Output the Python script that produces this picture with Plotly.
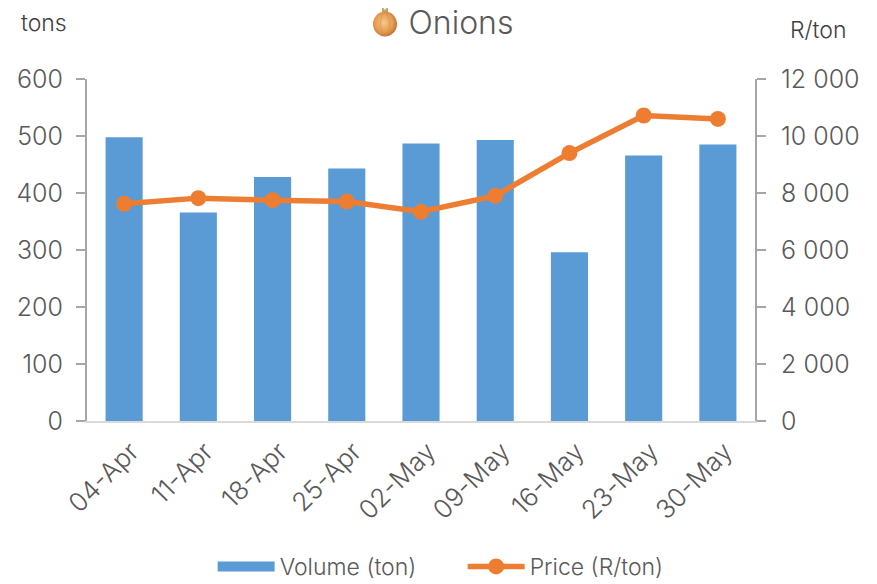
import base64
import plotly.graph_objects as go

categories = ["04-Apr", "11-Apr", "18-Apr", "25-Apr", "02-May", "09-May", "16-May", "23-May", "30-May"]
volume = [498, 366, 428, 443, 487, 493, 296, 466, 485]
price = [7620, 7820, 7750, 7700, 7340, 7900, 9400, 10720, 10600]
left_ticks = [0, 100, 200, 300, 400, 500, 600]
right_ticks = [0, 2000, 4000, 6000, 8000, 10000, 12000]
right_labels = ["0", "2 000", "4 000", "6 000", "8 000", "10 000", "12 000"]

FONT = "Inter"
TXT = "#595959"
BLUE = "#5B9BD5"
ORANGE = "#ED7D31"

onion_svg = """<svg xmlns='http://www.w3.org/2000/svg' viewBox='0 0 28 34'>
<defs><radialGradient id='g' cx='45%' cy='45%' r='60%'>
<stop offset='0%' stop-color='#f6c987'/><stop offset='65%' stop-color='#e39a4e'/><stop offset='100%' stop-color='#b9652c'/>
</radialGradient></defs>
<path d='M11 1 L14 5 L17 1 L17 8 L11 8 Z' fill='#c9a26a'/>
<ellipse cx='14' cy='19' rx='12' ry='12.5' fill='url(#g)'/>
<path d='M14 7 C8 12 8 26 14 31 M14 7 C20 12 20 26 14 31' stroke='#d08a48' stroke-width='.5' fill='none'/>
</svg>"""
onion_uri = "data:image/svg+xml;base64," + base64.b64encode(onion_svg.encode()).decode()

fig = go.Figure()
fig.add_trace(go.Bar(x=categories, y=volume, name="Volume (ton)", marker=dict(color=BLUE, line=dict(width=0)), showlegend=False))
fig.add_trace(go.Scatter(x=[categories[0]], y=[None], mode="lines", name="Volume (ton)", line=dict(color=BLUE, width=10)))
fig.add_trace(go.Scatter(x=categories, y=price, name="Price (R/ton)", yaxis="y2", mode="lines+markers",
                         line=dict(color=ORANGE, width=5.5), marker=dict(color=ORANGE, size=16)))

tf = dict(size=25, color=TXT, weight=300)
fig.update_layout(
    width=869, height=580, autosize=False,
    margin=dict(l=79, r=122, t=71, b=167),
    paper_bgcolor="white", plot_bgcolor="white",
    font=dict(family=FONT, color=TXT, size=23, weight=300),
    bargap=0.5,
    showlegend=True,
    title=dict(text="Onions", xref="container", yref="container", x=(461-8)/869, y=1-(23-8)/580,
               xanchor="center", yanchor="middle", font=dict(size=32, color=TXT, weight=300)),
    legend=dict(orientation="h", x=0.2355, xref="container", xanchor="left", y=0.0, yref="container", yanchor="bottom",
                font=dict(size=23, color=TXT, weight=300), itemwidth=57, traceorder="normal",
                entrywidthmode="pixels", entrywidth=178),
    xaxis=dict(type="category", categoryorder="array", categoryarray=categories, range=[-0.5, 8.5], tickangle=-45,
               tickfont=dict(size=26, color=TXT, weight=300), showgrid=False, ticklabelshift=7, ticklabelstandoff=3,
               automargin=False, showline=True, linecolor="#D9D9D9", linewidth=2, ticks=""),
    yaxis=dict(range=[0, 600], tickvals=left_ticks, tickfont=tf, showgrid=False, zeroline=False, ticklabelstandoff=8,
               automargin=False, showline=True, linecolor="#A6A6A6", linewidth=2, ticks="outside", ticklen=9, tickwidth=2, tickcolor="#A6A6A6"),
    yaxis2=dict(range=[0, 12000], overlaying="y", side="right", tickvals=right_ticks, ticktext=right_labels,
                tickfont=tf, showgrid=False, zeroline=False, ticklabelstandoff=10,
                automargin=False, showline=True, linecolor="#A6A6A6", linewidth=2, ticks="outside", ticklen=9, tickwidth=2, tickcolor="#A6A6A6"),
    annotations=[
        dict(text="tons", xref="paper", yref="paper", x=(44-87)/668, y=(421-23)/342, xanchor="center", yanchor="middle",
             showarrow=False, font=dict(size=23, color="#404040", weight=300)),
        dict(text="R/ton", xref="paper", yref="paper", x=(818-87)/668, y=(421-30)/342, xanchor="center", yanchor="middle",
             showarrow=False, font=dict(size=23, color="#404040", weight=300)),
    ],
    shapes=[dict(type="rect", xref="paper", yref="paper", x0=(218-87)/668, x1=(275-87)/668,
                 y0=(421-575)/342, y1=(421-562)/342, fillcolor=BLUE, line=dict(width=0), layer="above")],
    images=[dict(source=onion_uri, xref="paper", yref="paper", x=(385-87)/668, y=(421-22)/342, sizex=34/668, sizey=34/342,
                 xanchor="center", yanchor="middle", sizing="contain", layer="above")],
)
fig.write_html("out.html")
